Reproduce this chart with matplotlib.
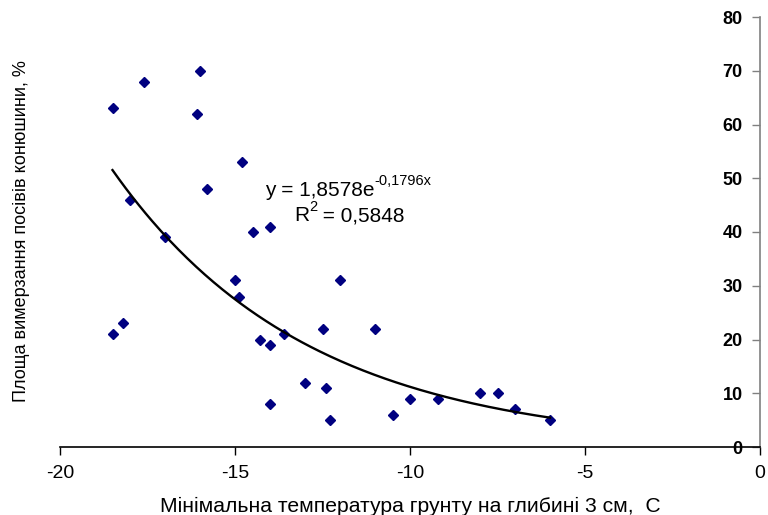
import numpy as np
import matplotlib
matplotlib.use("Agg")
import matplotlib.pyplot as plt

plt.rcParams['font.family'] = ['Liberation Sans', 'DejaVu Sans']

# Data
temp = [-18.5, -17.6, -16.0, -16.1, -14.8, -15.8, -18.0, -14.5, -14.0, -17.0,
        -15.0, -14.9, -12.0, -18.2, -18.5, -12.5, -11.0, -13.6, -14.3, -14.0,
        -13.0, -12.4, -14.0, -12.3, -10.5, -10.0, -9.2, -8.0, -7.5, -7.0, -6.0]
area = [63, 68, 70, 62, 53, 48, 46, 40, 41, 39,
        31, 28, 31, 23, 21, 22, 22, 21, 20, 19,
        12, 11, 8, 5, 6, 9, 9, 10, 10, 7, 5]

coef_a = 1.8578
coef_b = -0.1796
eq_main = 'y = 1,8578e'
eq_exp = '-0,1796x'
r2_main = 'R'
r2_exp = '2'
r2_rest = ' = 0,5848'

x_ticks = [-20, -15, -10, -5, 0]
y_ticks = [0, 10, 20, 30, 40, 50, 60, 70, 80]

fig = plt.figure(figsize=(7.68, 5.15), dpi=100)
ax = fig.add_axes([60/768, 1 - 447/515, 700/768, 430/515])

ax.plot(temp, area, linestyle='none', marker='D', markersize=4.8,
        color='#000080', markeredgecolor='#000080')

xs = np.linspace(min(temp), max(temp), 200)
ax.plot(xs, coef_a * np.exp(coef_b * xs), color='black', linewidth=1.7)

ax.set_xlim(-20, 0)
ax.set_ylim(0, 80)
ax.set_xticks(x_ticks)
ax.set_xticklabels([str(v) for v in x_ticks])
ax.set_yticks(y_ticks)

ax.spines['top'].set_visible(False)
ax.spines['right'].set_visible(False)
ax.spines['left'].set_position(('data', 0))
ax.spines['left'].set_color('#808080')
ax.spines['left'].set_linewidth(1.2)
ax.spines['bottom'].set_color('black')
ax.spines['bottom'].set_linewidth(1.2)

ax.tick_params(axis='x', direction='out', length=6, width=1, pad=7,
               labelsize=14, colors='black')
ax.tick_params(axis='y', direction='out', length=6, width=1, pad=6.5,
               labelsize=13, color='#808080', labelcolor='black')
for lbl in ax.get_yticklabels():
    lbl.set_fontweight('bold')

ax.set_xlabel('Мінімальна температура грунту на глибині 3 см,  С', fontsize=15.2,
              labelpad=11)
fig.text(22/768, 1 - 231/515, 'Площа вимерзання посівів конюшини, %',
         rotation=90, ha='center', va='center', fontsize=13)

y_eq, y_r2 = 46.7, 42.0
t1 = ax.text(-14.14, y_eq, eq_main, fontsize=15, ha='left', va='baseline')
t2 = ax.text(-13.31, y_r2, r2_main, fontsize=15, ha='left', va='baseline')
fig.canvas.draw()
r = fig.canvas.get_renderer()
base1 = ax.transData.transform((0, y_eq))[1]
base2 = ax.transData.transform((0, y_r2))[1]
b1 = t1.get_window_extent(r)
ax.annotate(eq_exp, xy=(b1.x1, base1 + 11), xycoords='figure pixels',
            fontsize=10.5, ha='left', va='baseline')
b2 = t2.get_window_extent(r)
t3 = ax.annotate(r2_exp, xy=(b2.x1, base2 + 10), xycoords='figure pixels',
                 fontsize=10.5, ha='left', va='baseline')
fig.canvas.draw()
b3 = t3.get_window_extent(r)
ax.annotate(r2_rest, xy=(b3.x1, base2), xycoords='figure pixels',
            fontsize=15, ha='left', va='baseline')

fig.savefig('out.png', dpi=100)
